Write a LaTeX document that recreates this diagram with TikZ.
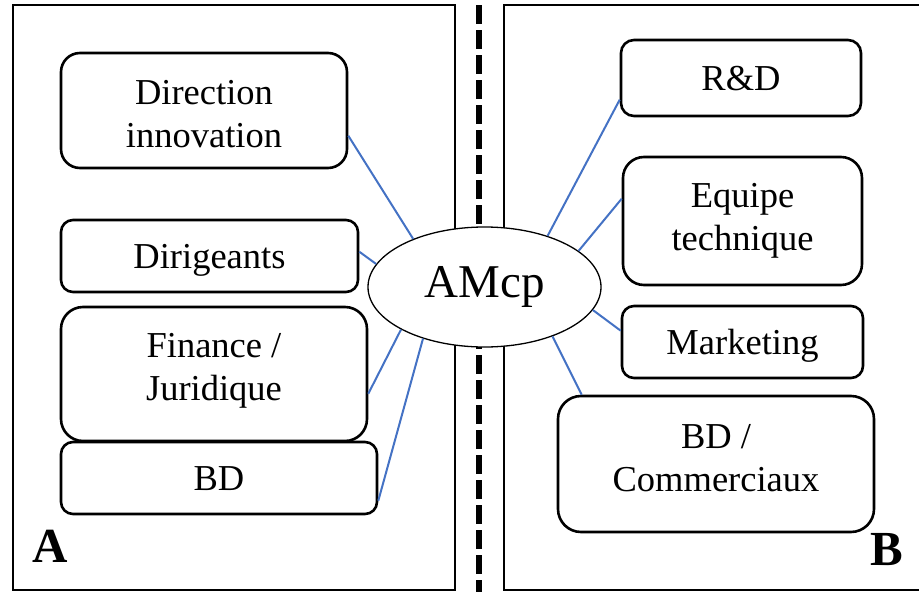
\documentclass[tikz,border=0pt]{standalone}
\usepackage{fontspec}
\setmainfont{Liberation Serif}
\usetikzlibrary{shapes.geometric,calc}
\definecolor{linkblue}{HTML}{4472C4}
\begin{document}
\begin{tikzpicture}[x=1pt,y=-1pt,
  panel/.style={draw=black,line width=2.6pt},
  box/.style={draw=black,line width=2.6pt,fill=white,inner sep=0pt,align=center,
    font=\fontsize{36.5}{43}\selectfont},
  one/.style={text height=25pt,text depth=0pt},
  hub/.style={draw=black,ellipse,line width=1.3pt,fill=white,inner sep=0pt,
    minimum width=233pt,minimum height=120pt,font=\fontsize{47}{50}\selectfont},
  link/.style={draw=linkblue,line width=2pt},
  sep/.style={line width=6pt,dash pattern=on 19pt off 6pt},
  tag/.style={font=\bfseries\fontsize{49}{50}\selectfont,anchor=base,inner sep=0pt}]
\useasboundingbox (0,0) rectangle (919,592);
% panels
\draw[panel] (13,5) rectangle (455,590);
\draw[panel] (504,5) rectangle (922,590);
\coordinate (s1) at (479,5);
\coordinate (s2) at (479,595);
\draw[sep] (s1) -- (s2);
% left boxes
\node[box,rounded corners=19pt,minimum width=286pt,minimum height=115pt,text height=73pt,text depth=0pt] (dir) at (204,110.5) {Direction\\innovation};
\node[box,one,rounded corners=12pt,minimum width=297pt,minimum height=72pt] (dirig) at (209.5,256) {Dirigeants};
\node[box,rounded corners=22pt,minimum width=306pt,minimum height=134pt,text height=68pt,text depth=16pt] (fin) at (214,374) {Finance /\\Juridique};
\node[box,one,rounded corners=12pt,minimum width=316pt,minimum height=72pt] (bd) at (219,478) {BD};
% right boxes
\node[box,one,rounded corners=13pt,minimum width=240pt,minimum height=76pt] (rd) at (741,78) {R\&D};
\node[box,rounded corners=21pt,minimum width=239pt,minimum height=128pt] (eq) at (742.5,221) {Equipe\\technique};
\node[box,one,rounded corners=12pt,minimum width=241pt,minimum height=72pt] (mk) at (742.5,342) {Marketing};
\node[box,rounded corners=23pt,minimum width=316pt,minimum height=136pt,text height=68pt,text depth=14pt] (bdc) at (716,464) {BD /\\Commerciaux};
% hub
\node[hub] (amcp) at (484.5,287) {AMcp};
% links
\draw[link] ($(dir.north east)+(0,84)$) -- (amcp.146);
\draw[link] ($(dirig.north east)+(0,33)$) -- (amcp.168);
\draw[link] ($(fin.north east)+(0,88)$) -- (amcp.207.5);
\draw[link] ($(bd.north east)+(0,60)$) -- (amcp.220.6);
\draw[link] ($(rd.north west)+(0,61)$) -- (amcp.39.2);
\draw[link] ($(eq.north west)+(0,43)$) -- (amcp.21.6);
\draw[link] ($(mk.north west)+(0,26)$) -- (amcp.-12.7);
\draw[link] ($(bdc.north west)+(25,0)$) -- (amcp.-36.5);
% tags
\node[tag] (ta) at (50.5,562) {A};
\node[tag] (tb) at (887,565) {B};
\end{tikzpicture}
\end{document}
